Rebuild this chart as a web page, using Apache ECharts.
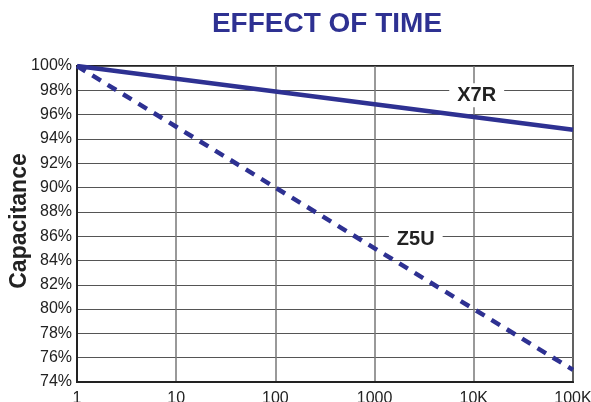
<!DOCTYPE html>
<html><head><meta charset="utf-8">
<script src="https://cdn.jsdelivr.net/npm/echarts@6/dist/echarts.min.js"></script>
<style>html,body{margin:0;padding:0;background:#fff}#c{width:591px;height:402px}</style>
</head><body><div id="c"></div>
<script>
const title = 'EFFECT OF TIME';
const yTitle = 'Capacitance';
const hours = [1, 10, 100, 1000, 10000, 100000];
const xTickLabels = {1:'1', 10:'10', 100:'100', 1000:'1000', 10000:'10K', 100000:'100K'};
const x7r = [100, 98.95, 97.9, 96.85, 95.8, 94.75];
const z5u = [100, 95, 90, 85, 80, 75];
const x7rLabelAt = [10700, 97.6];
const z5uLabelAt = [2600, 85.7];

const blue = '#2E3192';
const ff = "'Liberation Sans', Arial, sans-serif";
const chart = echarts.init(document.getElementById('c'));
const lbl = {show:true, formatter:'{b}', color:'#222', fontSize:20, fontWeight:'bold',
  fontFamily:ff, backgroundColor:'#fff', padding:[2,8], position:'inside'};
chart.setOption({
  animation:false,
  title:{text:title, left:322, textAlign:'center', top:5,
    textStyle:{color:blue, fontSize:28, fontWeight:'bold', fontFamily:ff}},
  graphic:[{type:'text', x:20, y:221, rotation:Math.PI/2,
    style:{text:yTitle, fill:'#222', font:"bold 23px 'Liberation Sans', Arial, sans-serif",
      align:'center', verticalAlign:'middle'}}],
  grid:{left:77, right:18, top:66, bottom:20, containLabel:false, outerBoundsMode:'none',
    show:true, borderColor:'#222', borderWidth:2, backgroundColor:'transparent'},
  xAxis:{type:'log', logBase:10, min:1, max:100000,
    axisLine:{show:true, lineStyle:{color:'#222', width:2}},
    axisTick:{show:false}, minorTick:{show:false},
    splitLine:{show:true, lineStyle:{color:'#777', width:1.5}},
    axisLabel:{formatter:v=>xTickLabels[v] ?? '', color:'#222', fontSize:16, margin:9, fontFamily:ff}},
  yAxis:{type:'value', min:74, max:100, interval:2,
    axisLine:{show:true, lineStyle:{color:'#222', width:2}},
    axisTick:{show:false},
    splitLine:{show:true, lineStyle:{color:'#555', width:1}},
    axisLabel:{formatter:'{value}%', color:'#222', fontSize:16, margin:5, fontFamily:ff}},
  series:[
    {name:'X7R', type:'line', data:hours.map((h,i)=>[h,x7r[i]]), symbol:'none',
      lineStyle:{color:blue, width:4.5}, z:3,
      markPoint:{symbol:'rect', symbolSize:0, silent:true, label:lbl,
        data:[{name:'X7R', coord:x7rLabelAt}]}},
    {name:'Z5U', type:'line', data:hours.map((h,i)=>[h,z5u[i]]), symbol:'none',
      lineStyle:{color:blue, width:4.5, type:[10,8]}, z:3,
      markPoint:{symbol:'rect', symbolSize:0, silent:true, label:lbl,
        data:[{name:'Z5U', coord:z5uLabelAt}]}}
  ]
});
</script></body></html>
